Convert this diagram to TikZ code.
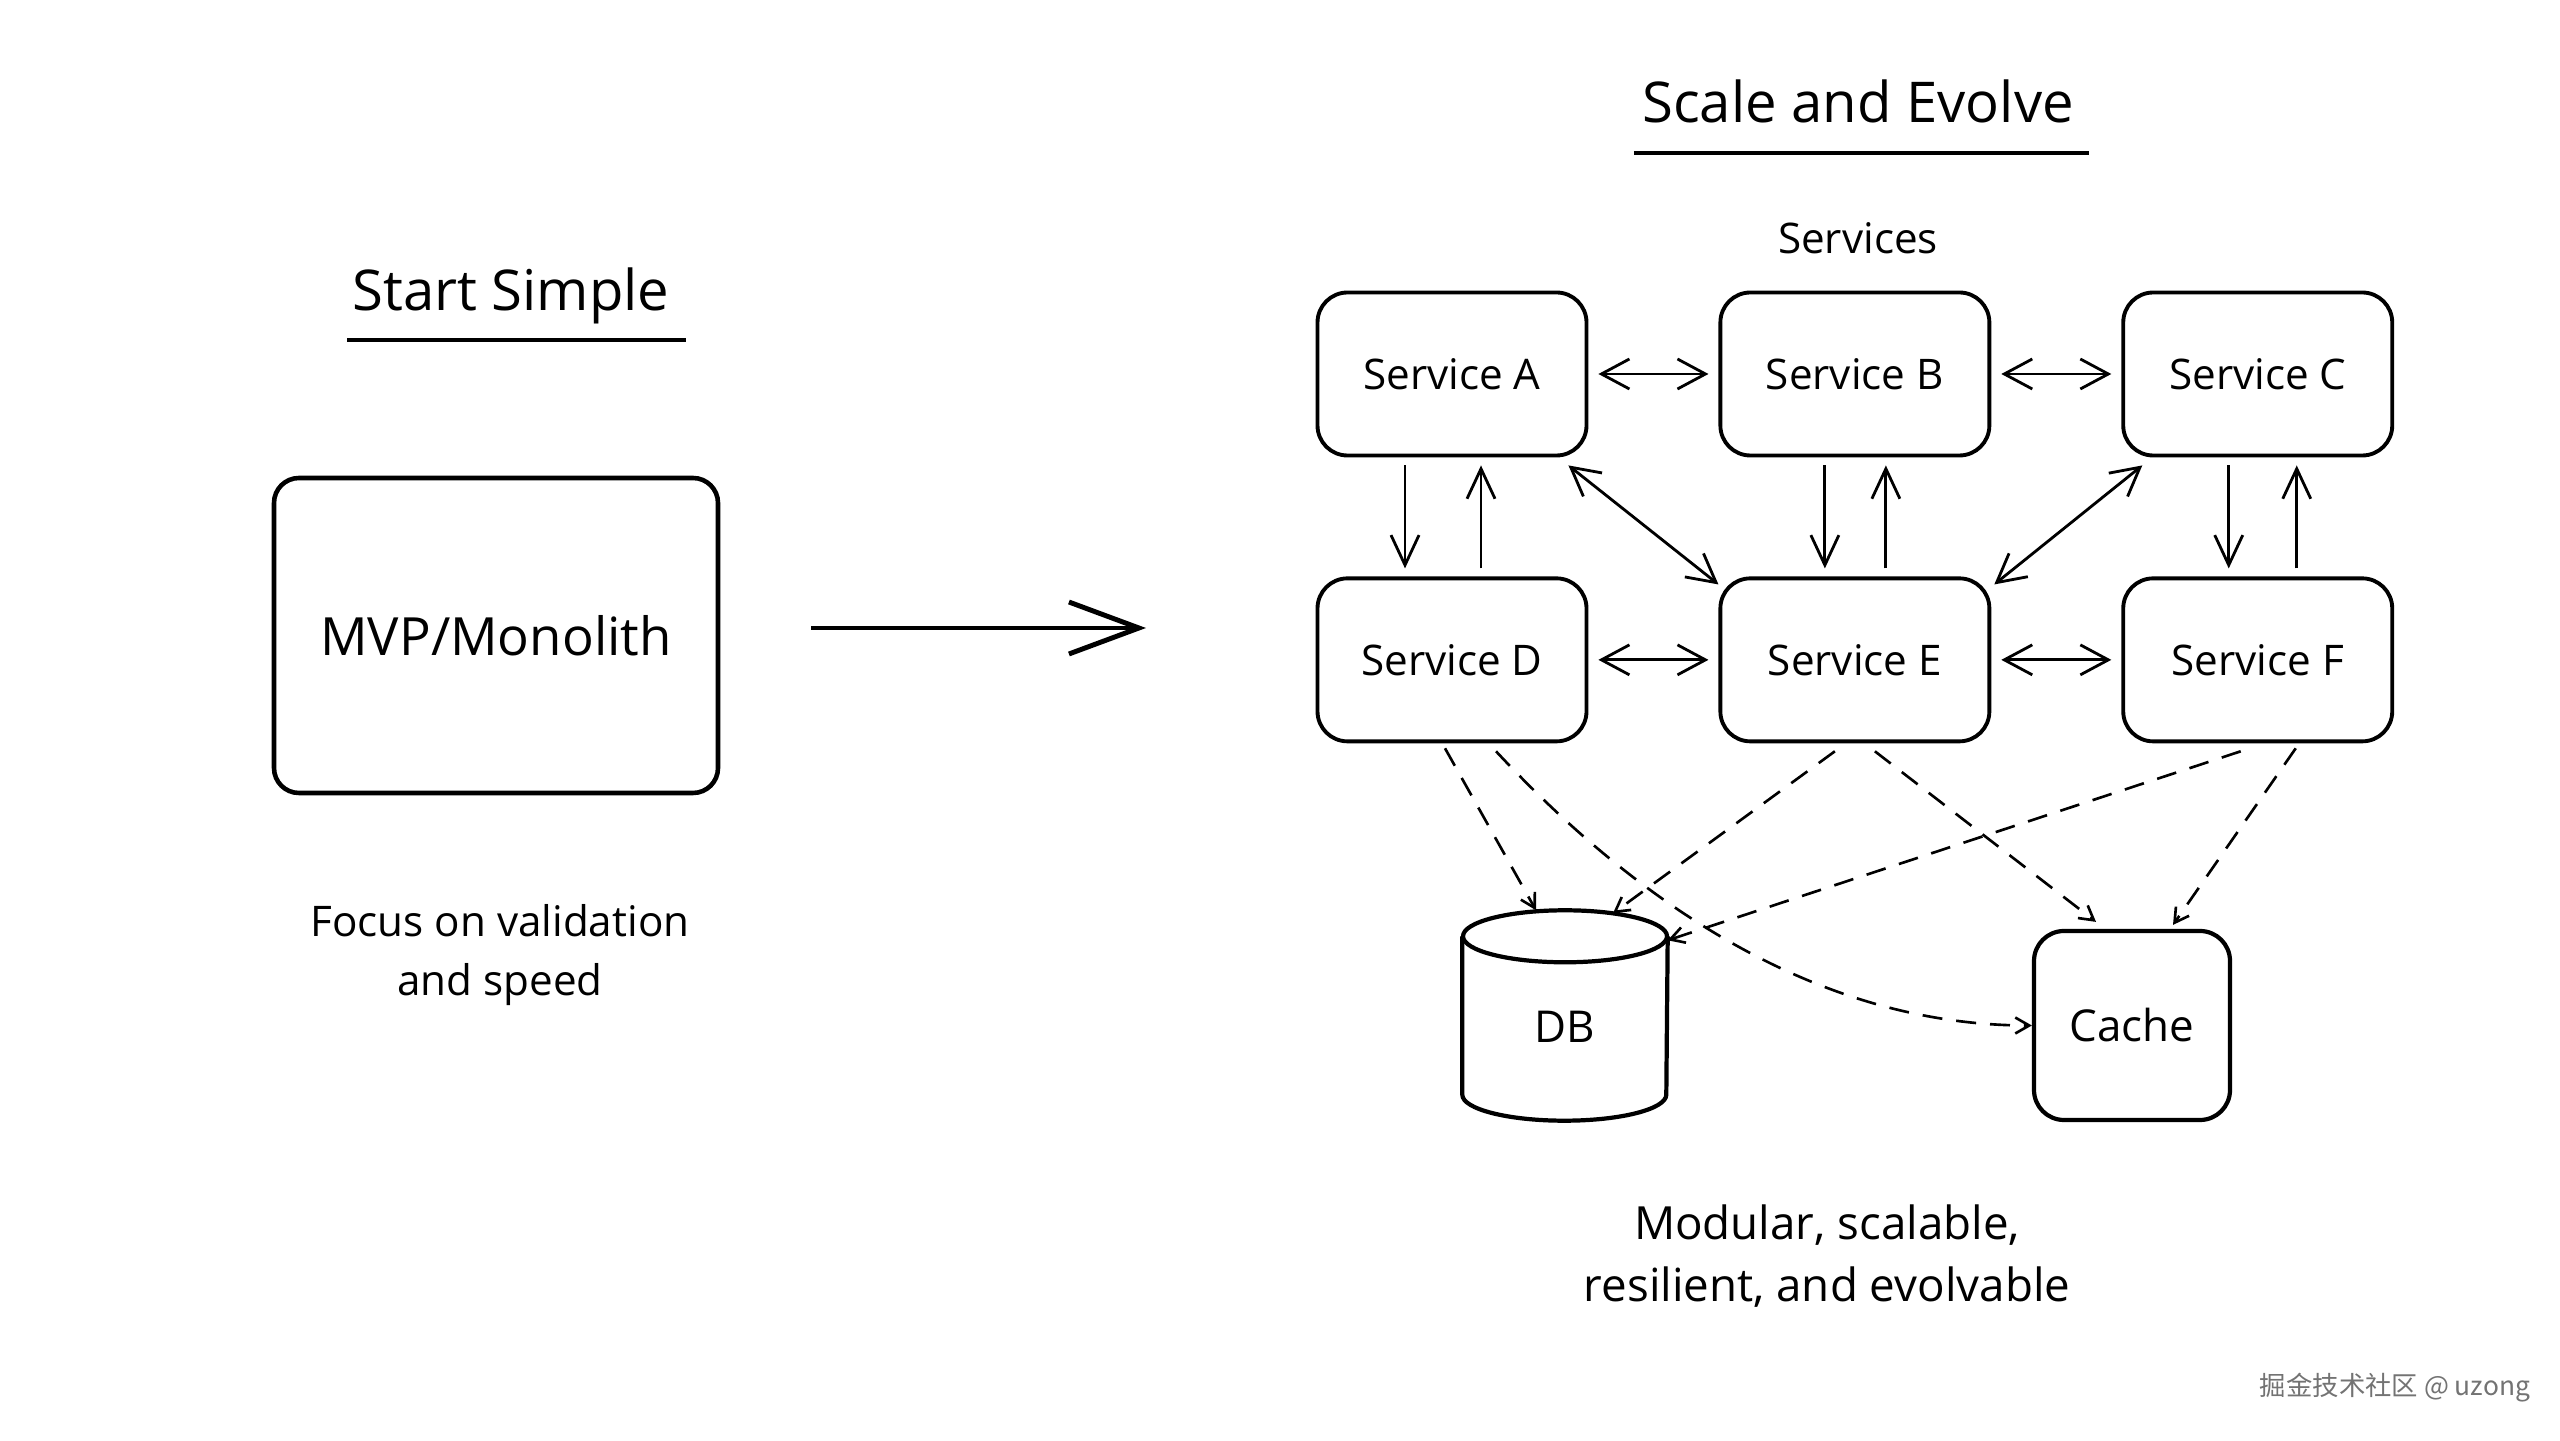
\documentclass[tikz,border=0pt]{standalone}
\usepackage{fontspec}
\setmainfont{Open Sans}
\newfontfamily\cjkfont{Noto Sans CJK SC}
\usetikzlibrary{shapes, arrows.meta, positioning, calc}

\begin{document}
\begin{tikzpicture}[
    svc/.style={draw, line width=1.1pt, rounded corners=3mm, minimum width=2.69cm, minimum height=1.63cm, font=\fontsize{12}{14}\selectfont},
    heading/.style={font=\fontsize{16}{19}\selectfont},
    note/.style={align=center, font=\fontsize{12.5}{17}\selectfont},
    rule/.style={line width=1.1pt},
    link/.style={{Straight Barb[length=2.8mm,width=3mm]}-{Straight Barb[length=2.8mm,width=3mm]}, line width=0.8pt, shorten <=1mm, shorten >=1mm},
    oneway/.style={-{Straight Barb[length=3mm,width=2.8mm]}, line width=0.8pt, shorten <=0.8mm, shorten >=0.8mm},
    dep/.style={-{Straight Barb[length=1.4mm,width=1.6mm]}, line width=0.75pt, dash pattern=on 2mm off 1.4mm}
]
    \fill[white] (0,0) rectangle (25.6,14.4);
    \useasboundingbox (0,0) rectangle (25.6,14.4);

    % Left: start simple
    \node[heading] (start) at (5.11,11.445) {Start Simple};
    \draw[rule] ([xshift=0.7mm,yshift=-0.4mm]start.south west) -- ([xshift=0.4mm,yshift=-0.4mm]start.south east);
    \node[draw, line width=1.3pt, rounded corners=2.5mm, minimum width=4.44cm, minimum height=3.15cm, font=\fontsize{15}{18}\selectfont] (mvp) at (4.96,8.045) {MVP/Monolith};
    \node[note, font=\fontsize{12}{17}\selectfont] (focus) at (5.0,4.85) {Focus on validation\\and speed};

    % Transition arrow
    \coordinate (go1) at (8.11,8.12);
    \coordinate (go2) at (11.46,8.12);
    \draw[-{Straight Barb[length=7mm,width=5.2mm]}, line width=1.4pt] (go1) -- (go2);

    % Right: services
    \node[heading] (scale) at (18.58,13.39) {Scale and Evolve};
    \draw[rule] ([xshift=0.4mm,yshift=-1.8mm]scale.south west) -- ([xshift=0.3mm,yshift=-1.8mm]scale.south east);
    \node[font=\fontsize{12}{14}\selectfont] (svclbl) at (18.58,12.02) {Services};

    \node[svc] (sa) at (14.52,10.66) {Service A};
    \node[svc, right=1.3cm of sa] (sb) {Service B};
    \node[svc, right=1.3cm of sb] (sc) {Service C};
    \node[svc, below=1.19cm of sa] (sd) {Service D};
    \node[svc, below=1.19cm of sb] (se) {Service E};
    \node[svc, below=1.19cm of sc] (sf) {Service F};

    \draw[link] (sa.east) -- (sb.west);
    \draw[link] (sb.east) -- (sc.west);
    \draw[link] (sd.east) -- (se.west);
    \draw[link] (se.east) -- (sf.west);
    \draw[link, shorten <=0pt, shorten >=0pt] ($(sa.south east)+(-0.2,-0.08)$) -- ($(se.north west)+(0,-0.08)$);
    \draw[link, shorten <=0pt, shorten >=0pt] ($(sc.south west)+(0.21,-0.08)$) -- ($(se.north east)+(0.03,-0.08)$);

    \draw[oneway] ([xshift=-4.7mm]sa.south) -- ([xshift=-4.7mm]sd.north);
    \draw[oneway] ([xshift=2.9mm]sd.north) -- ([xshift=2.9mm]sa.south);
    \draw[oneway] ([xshift=-3mm]sb.south) -- ([xshift=-3mm]se.north);
    \draw[oneway] ([xshift=3.1mm]se.north) -- ([xshift=3.1mm]sb.south);
    \draw[oneway] ([xshift=-2.9mm]sc.south) -- ([xshift=-2.9mm]sf.north);
    \draw[oneway] ([xshift=3.9mm]sf.north) -- ([xshift=3.9mm]sc.south);

    % Storage
    \node[minimum width=2.04cm, minimum height=2.09cm, font=\fontsize{12.5}{14}\selectfont] (db) at (15.65,4.245) {\smash{\raisebox{-2.75mm}{DB}}};
    \draw[line width=1.2pt] ($(db.north)+(0,-0.26)$) ellipse (1.02 and 0.26);
    \draw[line width=1.2pt] ($(db.north west)+(0,-0.26)$) -- ($(db.south west)+(0,0.26)$) arc (180:360:1.02 and 0.26) -- ($(db.north east)+(0,-0.26)$);
    \node[draw, line width=1.2pt, rounded corners=3mm, minimum width=1.96cm, minimum height=1.89cm, font=\fontsize{12.5}{14}\selectfont] (cache) at (21.32,4.145) {Cache};

    % Data access
    \draw[dep] ($(sd.south)+(-0.07,-0.05)$) -- ($(db.north)+(-0.29,0)$);
    \draw[dep] ($(sd.south)+(0.44,-0.08)$) to[out=-47, in=180, looseness=0.9] (cache.west);
    \draw[dep] ($(se.south)+(-0.2,-0.08)$) -- ($(db.north)+(0.48,-0.03)$);
    \draw[dep] ($(se.south)+(0.2,-0.08)$) -- ($(cache.north)+(-0.36,0.07)$);
    \draw[dep] ($(sf.south)+(-0.17,-0.08)$) -- ($(db.north east)+(0,-0.3)$);
    \draw[dep] ($(sf.south)+(0.38,-0.05)$) -- ($(cache.north)+(0.41,0.04)$);

    \node[note, font=\fontsize{13}{17.6}\selectfont] (goal) at (18.27,1.84) {Modular, scalable,\\resilient, and evolvable};

    \node[font=\cjkfont\fontsize{7.5}{9}\selectfont, text=black!55] (mark) at (23.95,0.52) {掘金技术社区 @ uzong};
\end{tikzpicture}
\end{document}
